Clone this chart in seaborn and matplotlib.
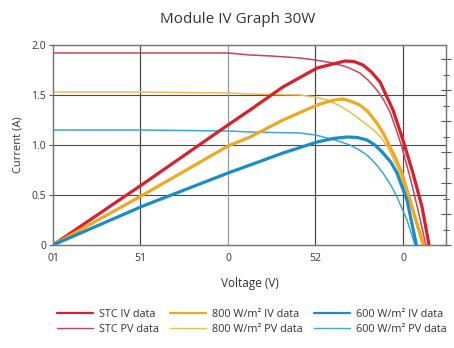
import matplotlib
matplotlib.use("Agg")
import matplotlib.pyplot as plt
from matplotlib.ticker import MultipleLocator, NullFormatter
from matplotlib.lines import Line2D
import seaborn as sns
import pandas as pd

sns.set_style("white")
plt.rcParams['font.family'] = ['Open Sans', 'DejaVu Sans']

# ---- data ----
# thin curves: current (A) vs voltage (V)
stc_iv_v = [0, 5, 10, 11.26, 12.5, 14.11, 15.0, 16.0, 16.8, 17.54, 18.0, 18.51, 18.9, 19.26, 19.6, 19.94, 20.4, 20.86, 21.31]
stc_iv_a = [1.92, 1.92, 1.92, 1.90, 1.89, 1.87, 1.85, 1.82, 1.78, 1.72, 1.65, 1.55, 1.45, 1.33, 1.16, 0.98, 0.68, 0.35, 0.0]
w800_iv_v = [0, 5, 10, 11.26, 12.5, 14.11, 15.0, 15.66, 16.3, 16.97, 17.5, 18.11, 18.5, 18.86, 19.3, 19.66, 20.23, 20.69, 21.09]
w800_iv_a = [1.53, 1.53, 1.52, 1.51, 1.505, 1.50, 1.48, 1.45, 1.40, 1.33, 1.26, 1.18, 1.12, 1.05, 0.92, 0.78, 0.52, 0.25, 0.0]
w600_iv_v = [0, 5, 10, 11.26, 12.5, 14.11, 15.0, 15.66, 16.3, 16.97, 17.5, 17.94, 18.4, 18.86, 19.3, 19.66, 20.23, 20.69]
w600_iv_a = [1.15, 1.15, 1.14, 1.13, 1.125, 1.12, 1.10, 1.07, 1.04, 1.00, 0.95, 0.90, 0.82, 0.72, 0.60, 0.48, 0.25, 0.0]

# thick curves: power (W) vs voltage (V), right-hand axis
stc_pv_v = [0, 5.14, 10, 11.26, 13.14, 15.09, 16.0, 16.69, 17.2, 17.71, 18.2, 18.69, 19.43, 20.0, 20.57, 21.09, 21.49]
stc_pv_w = [0, 9.84, 19.36, 21.78, 25.49, 28.55, 29.2, 29.68, 29.6, 29.04, 27.9, 26.29, 21.78, 16.94, 11.61, 6.13, 0]
w800_pv_v = [0, 5.14, 10, 11.26, 13.14, 15.09, 15.83, 16.1, 16.57, 17.0, 17.54, 18.0, 18.51, 18.9, 19.26, 19.6, 19.94, 20.4, 20.86, 21.2]
w800_pv_w = [0, 8.07, 15.97, 17.42, 20.16, 22.58, 23.23, 23.4, 23.55, 23.2, 22.58, 21.5, 19.68, 17.9, 15.81, 13.9, 11.61, 7.26, 2.90, 0]
w600_pv_v = [0, 5.14, 10, 11.26, 13.14, 15.09, 16.0, 16.8, 17.4, 17.94, 18.4, 18.86, 19.3, 19.66, 20.23, 20.77]
w600_pv_w = [0, 6.29, 11.61, 12.90, 14.84, 16.61, 17.18, 17.42, 17.34, 16.94, 16.13, 14.84, 13.39, 11.61, 7.26, 0]

x_ticks = [0, 5, 10, 15, 20]
x_tick_labels = ["01", "51", "0", "52", "0"]
y_ticks = [0, 0.5, 1.0, 1.5, 2.0]
y_tick_labels = ["0", "0.5", "1.0", "1.5", "2.0"]

legend_labels = ["STC IV data", "STC PV data",
                 "800 W/m\u00b2 IV data", "800 W/m\u00b2 PV data",
                 "600 W/m\u00b2 IV data", "600 W/m\u00b2 PV data"]

# ---- colours ----
red_thick, red_thin = "#d9202c", "#c2465a"
yel_thick, yel_thin = "#f0a820", "#f0bc50"
blu_thick, blu_thin = "#1a8cc8", "#3aa6d2"

fig = plt.figure(figsize=(4.54, 3.48), dpi=100)
ax = fig.add_axes([53/454, 1-245/348, (446-53)/454, 200/348])
ax2 = ax.twinx()

lw_thick, lw_thin = 2.3, 1.1

# grid
for yv in [0.5, 1.0, 1.5]:
    ax.axhline(yv, color="#4a4a4a", lw=0.8, zorder=1)
for xv, c in zip([5, 10, 15, 20], ["#4a4a4a", "#9a9a9a", "#4a4a4a", "#4a4a4a"]):
    ax.axvline(xv, color=c, lw=0.9, zorder=1)

def draw(a, xs, ys, color, lw):
    df = pd.DataFrame({"x": xs, "y": ys})
    sns.lineplot(data=df, x="x", y="y", ax=a, color=color, lw=lw, sort=False,
                 estimator=None, legend=False, zorder=3)

draw(ax, stc_iv_v, stc_iv_a, red_thin, lw_thin)
draw(ax, w800_iv_v, w800_iv_a, yel_thin, lw_thin)
draw(ax, w600_iv_v, w600_iv_a, blu_thin, lw_thin)
draw(ax2, stc_pv_v, stc_pv_w, red_thick, lw_thick)
draw(ax2, w800_pv_v, w800_pv_w, yel_thick, lw_thick)
draw(ax2, w600_pv_v, w600_pv_w, blu_thick, lw_thick)

ax.set_xlim(0, 22.46)
ax.set_ylim(0, 2.0)
ax2.set_ylim(0, 32.26)

ax.set_xticks(x_ticks)
ax.set_xticklabels(x_tick_labels)
ax.set_yticks(y_ticks)
ax.set_yticklabels(y_tick_labels)
ax.tick_params(axis="both", labelsize=7.5, colors="#333333", length=3, width=0.8,
               color="#555555", pad=2, direction="out")
ax.tick_params(axis="x", length=4)

ax2.yaxis.set_major_locator(MultipleLocator(5))
ax2.yaxis.set_minor_locator(MultipleLocator(2.5))
ax2.yaxis.set_major_formatter(NullFormatter())
ax2.tick_params(axis="y", which="major", direction="inout", length=7, width=0.8, color="#555555")
ax2.tick_params(axis="y", which="minor", direction="inout", length=4, width=0.8, color="#555555")
ax2.set_ylabel("")

for a in (ax, ax2):
    for s in a.spines.values():
        s.set_color("#777777")
        s.set_linewidth(0.9)
    a.set_xlabel("")
ax.set_ylabel("Current (A)", fontsize=8, color="#333333", labelpad=9)
ax.yaxis.set_label_coords(-0.075, 0.5)
ax.set_xlabel("Voltage (V)", fontsize=8.5, color="#333333", labelpad=9)

fig.text(0.524, 0.945, "Module IV Graph 30W", ha="center", va="center",
         fontsize=11, color="#333333")

handles = [Line2D([], [], color=red_thick, lw=1.6), Line2D([], [], color=red_thin, lw=1.0),
           Line2D([], [], color=yel_thick, lw=1.6), Line2D([], [], color=yel_thin, lw=1.0),
           Line2D([], [], color=blu_thick, lw=1.6), Line2D([], [], color=blu_thin, lw=1.0)]
fig.legend(handles, legend_labels, ncol=3, loc="center", bbox_to_anchor=(0.555, 0.075),
           frameon=False, fontsize=7.8, handlelength=3.3, columnspacing=1.0,
           handletextpad=0.6, labelspacing=0.4, labelcolor="#333333")

fig.savefig("out.png", dpi=100)
